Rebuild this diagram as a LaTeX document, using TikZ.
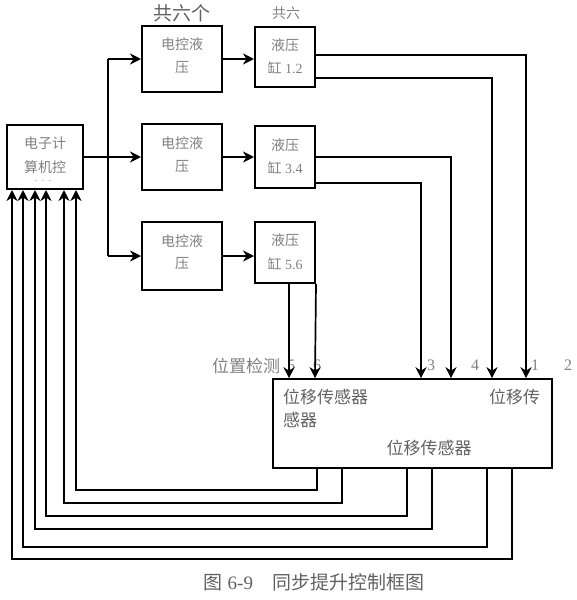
\documentclass[tikz,border=0pt]{standalone}
\usepackage{fontspec}
\setmainfont{Liberation Serif}
\newfontfamily\cjk{Noto Sans CJK SC}
\usetikzlibrary{arrows.meta}
\definecolor{txt}{gray}{0.5}
\definecolor{txtd}{gray}{0.38}
\begin{document}
\begin{tikzpicture}[x=1pt,y=-1pt,
  box/.style={draw,line width=2pt,inner sep=0pt},
  lbl/.style={text=txt,inner sep=0pt,font=\fontsize{14}{14}\selectfont},
  big/.style={text=txtd,inner sep=0pt,font=\fontsize{17}{17}\selectfont},
  num/.style={text=txt,inner sep=0pt,font=\fontsize{16}{16}\selectfont},
  conn/.style={line width=1.7pt},
  arr/.style={conn,-{Stealth[length=11pt,width=11pt,inset=3.5pt]}},
  fb/.style={line width=1.4pt,-{Stealth[length=11pt,width=11pt,inset=3.5pt]}}]
\useasboundingbox (0,0) rectangle (576,600);

% computer
\node[box,minimum width=76pt,minimum height=64pt] (comp) at (45,157) {};
\node[lbl] (c1) at (45,143) {\cjk 电子计};
\node[lbl] (c2) at (45,167) {\cjk 算机控};
\node[lbl,font=\fontsize{9}{9}\selectfont] (c3) at (43,181) {.\ \ .\ \ .};

% electro-hydraulic controllers
\node[box,minimum width=80pt,minimum height=66pt] (ev1) at (182,59) {};
\node[box,minimum width=80pt,minimum height=66pt] (ev2) at (182,157) {};
\node[box,minimum width=80pt,minimum height=68pt] (ev3) at (182,256) {};
\node[lbl] (e1a) at (182,44) {\cjk 电控液};
\node[lbl] (e1b) at (182,68) {\cjk 压};
\node[lbl] (e2a) at (182,143) {\cjk 电控液};
\node[lbl] (e2b) at (182,167) {\cjk 压};
\node[lbl] (e3a) at (182,241) {\cjk 电控液};
\node[lbl] (e3b) at (182,264) {\cjk 压};

% cylinders
\node[box,minimum width=60pt,minimum height=60pt] (cy1) at (285,57) {};
\node[box,minimum width=60pt,minimum height=62pt] (cy2) at (285,157) {};
\node[box,minimum width=60pt,minimum height=61pt] (cy3) at (285,252.5) {};
\node[lbl] (y1a) at (285,45) {\cjk 液压};
\node[lbl] (y1b) at (285,68) {{\cjk 缸} 1.2};
\node[lbl] (y2a) at (285,145) {\cjk 液压};
\node[lbl] (y2b) at (285,168) {{\cjk 缸} 3.4};
\node[lbl] (y3a) at (285,240) {\cjk 液压};
\node[lbl] (y3b) at (285,264) {{\cjk 缸} 5.6};

% headings
\node[text=txtd,inner sep=0pt,font=\fontsize{19}{19}\selectfont] (h1) at (182,13) {\cjk 共六个};
\node[lbl] (h2) at (286,13) {\cjk 共六};

% sensor box
\node[draw,line width=1.6pt,inner sep=0pt,minimum width=279pt,minimum height=89pt] (sens) at (412.5,423.5) {};
\node[big,anchor=west] (s1) at (283,397) {\cjk 位移传感器};
\node[big,anchor=west] (s2) at (283,420) {\cjk 感器};
\node[big] (s3) at (429,448) {\cjk 位移传感器};
\node[big,anchor=west] (s4) at (489,397) {\cjk 位移传};

% labels above sensor box
\node[big,text=txt] (pos) at (246,366) {\cjk 位置检测};
\node[num] (n5) at (291,365) {5};
\node[num] (n6) at (317,365) {6};
\node[num] (n3) at (431,365) {3};
\node[num] (n4) at (475,365) {4};
\node[num] (n1) at (535,365) {1};
\node[num] (n2) at (568,365) {2};

% computer to controllers
\coordinate (b1) at (108,59);
\coordinate (b3) at (108,256);
\draw[arr] (comp.east) -- (ev2.west);
\draw[conn] (b1) -- (b3);
\draw[arr] (b1) -- (ev1.west);
\draw[arr] (b3) -- (ev3.west);

% controllers to cylinders
\draw[arr] (ev1.east) -- (ev1.east -| cy1.west);
\draw[arr] (ev2.east) -- (ev2.east -| cy2.west);
\draw[arr] (ev3.east) -- (ev3.east -| cy3.west);

% cylinders to sensors
\draw[arr] (cy1.east |- 0,55) -| (sens.north -| 526,0);
\draw[arr] (cy1.east |- 0,78) -| (sens.north -| 492,0);
\draw[arr] (cy2.east |- 0,157) -| (sens.north -| 451,0);
\draw[arr] (cy2.east |- 0,183) -| (sens.north -| 421,0);
\draw[arr] (cy3.south -| 289,0) -- (sens.north -| 289,0);
\draw[arr] (cy3.south east) -- (sens.north -| 315,0);

% feedback
\draw[fb] (sens.south -| 317,0) |- (76,490) -- (comp.south -| 76,0);
\draw[fb] (sens.south -| 342,0) |- (64,503) -- (comp.south -| 64,0);
\draw[fb] (sens.south -| 407,0) |- (46,516) -- (comp.south -| 46,0);
\draw[fb] (sens.south -| 432,0) |- (35,529) -- (comp.south -| 35,0);
\draw[fb] (sens.south -| 487,0) |- (23,547) -- (comp.south -| 23,0);
\draw[fb] (sens.south -| 512,0) |- (12,559) -- (comp.south -| 12,0);

% caption
\node[text=txtd,inner sep=0pt,font=\fontsize{19}{19}\selectfont] (cap) at (314,582) {{\cjk 图} 6-9\quad{\cjk 同步提升控制框图}};
\end{tikzpicture}
\end{document}
